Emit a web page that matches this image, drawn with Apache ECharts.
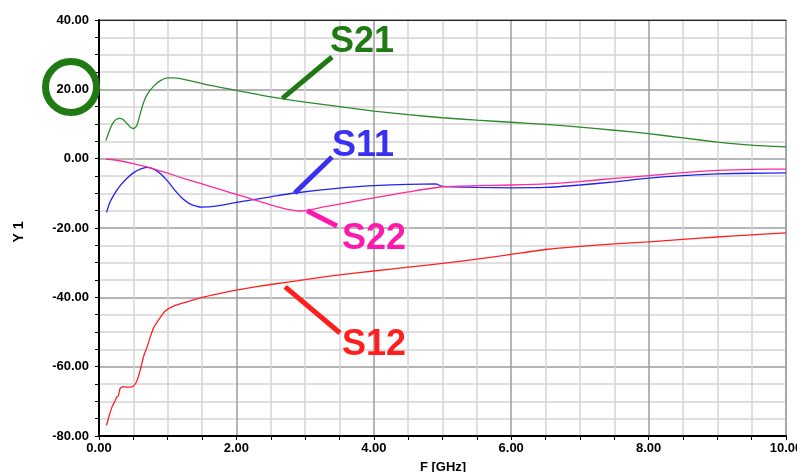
<!DOCTYPE html>
<html>
<head>
<meta charset="utf-8">
<script src="https://cdn.jsdelivr.net/npm/echarts@6/dist/echarts.min.js"></script>
<style>
html,body{margin:0;padding:0;background:#fff;}
#c{width:797px;height:472px;}
</style>
</head>
<body>
<div id="c"></div>
<script>
// ---- data (frequency in GHz, value in dB) ----
var s21F = [0.1,0.15,0.2,0.25,0.3,0.35,0.4,0.45,0.5,0.55,0.6,0.65,0.7,0.8,0.9,1.0,1.1,1.3,1.6,2.0,2.5,3.0,3.5,4.0,4.5,5.0,5.5,6.0,6.5,7.0,7.5,8.0,8.5,9.0,9.5,10.0];
var s21V = [5.2,8.0,10.2,11.3,11.6,11.3,10.3,9.2,8.7,9.5,13.0,16.3,18.5,21.0,22.6,23.3,23.3,22.6,21.2,19.7,17.8,16.3,15.0,13.7,12.7,11.8,11.1,10.5,9.9,9.1,8.2,7.2,6.0,4.8,3.9,3.4];

var s11F = [0.11,0.15,0.2,0.3,0.4,0.5,0.6,0.7,0.8,0.9,1.0,1.1,1.2,1.33,1.5,1.7,2.0,2.5,2.85,3.5,4.0,4.5,4.9,5.0,5.5,6.0,6.5,7.0,7.5,8.0,8.5,9.0,9.5,10.0];
var s11V = [-15.5,-13.0,-11.0,-8.0,-5.8,-4.1,-3.0,-2.5,-3.0,-4.4,-6.5,-9.0,-11.2,-13.1,-14.0,-13.7,-12.6,-11.0,-9.9,-8.5,-7.8,-7.4,-7.3,-8.0,-8.3,-8.4,-8.3,-7.6,-6.7,-5.6,-4.9,-4.4,-4.2,-4.1];

var s22F = [0.1,0.3,0.5,0.7,0.9,1.0,1.25,1.5,1.75,2.0,2.25,2.5,2.75,2.95,3.25,3.5,4.0,4.5,5.0,5.5,6.0,6.5,7.0,7.5,8.0,8.5,9.0,9.5,10.0];
var s22V = [-0.1,-0.6,-1.4,-2.4,-3.6,-4.2,-5.8,-7.3,-8.8,-10.3,-11.8,-13.3,-14.6,-15.1,-14.0,-13.1,-11.3,-9.6,-8.1,-7.8,-7.6,-7.3,-6.6,-5.7,-4.9,-4.0,-3.4,-3.1,-3.0];

var s12F = [0.11,0.15,0.19,0.23,0.26,0.28,0.31,0.35,0.4,0.45,0.5,0.55,0.6,0.65,0.7,0.75,0.8,0.9,0.96,1.1,1.28,1.5,1.75,2.0,2.5,3.0,3.5,4.0,4.5,5.0,5.5,6.0,6.5,7.0,7.5,8.0,8.5,9.0,9.5,10.0];
var s12V = [-76.9,-74.0,-71.6,-70.0,-68.7,-68.5,-66.2,-65.8,-65.9,-65.9,-65.6,-64.2,-61.0,-57.0,-54.3,-51.2,-48.6,-45.6,-44.0,-42.4,-41.3,-40.0,-38.9,-37.9,-36.3,-34.9,-33.5,-32.4,-31.3,-30.2,-29.0,-27.6,-26.2,-25.3,-24.6,-24.0,-23.3,-22.6,-22.0,-21.4];

var seriesNames = ['S21','S11','S22','S12'];
var xMin = 0, xMax = 10, xStep = 0.5, xLabelStep = 2;
var yMin = -80, yMax = 40, yStep = 5, yLabelStep = 20;

function pairs(f, v){ return f.map(function(x,i){ return [x, v[i]]; }); }

var FONT = '"Liberation Sans", Arial, sans-serif';
var MAJOR = '#9c9c9c', MINOR = '#d4d4d4';

var chart = echarts.init(document.getElementById('c'), null, {renderer:'canvas'});

var colors = {S21:'#2a8a2a', S11:'#2323f0', S22:'#ff2a9a', S12:'#ff2020'};
var dataMap = {S21:pairs(s21F,s21V), S11:pairs(s11F,s11V), S22:pairs(s22F,s22V), S12:pairs(s12F,s12V)};

var option = {
  animation:false,
  backgroundColor:'#ffffff',
  grid:{left:99, right:11, top:20, bottom:36, containLabel:false, outerBoundsMode:'none',
    show:true, borderColor:'#8a8a8a', borderWidth:1, backgroundColor:'transparent'},
  xAxis:[{
    type:'value', min:xMin, max:xMax, interval:xStep, position:'bottom',
    axisLine:{show:true, onZero:false, lineStyle:{color:'#000', width:2}},
    axisTick:{show:true, length:4, lineStyle:{color:'#000', width:1}},
    axisLabel:{show:true, margin:6, color:'#000', fontFamily:FONT, fontWeight:'bold', fontSize:13,
      formatter:function(v){ return (Math.abs(v/xLabelStep - Math.round(v/xLabelStep))<1e-6) ? v.toFixed(2) : ''; }},
    splitLine:{show:true, lineStyle:{color:[MAJOR,MINOR,MINOR,MINOR], width:1.5}}
  },{
    type:'value', min:xMin, max:xMax, position:'top',
    axisLine:{show:true, onZero:false, lineStyle:{color:'#222', width:1}},
    axisTick:{show:false}, axisLabel:{show:false}, splitLine:{show:false}
  }],
  yAxis:{
    type:'value', min:yMin, max:yMax, interval:yStep,
    axisLine:{show:true, onZero:false, lineStyle:{color:'#000', width:2}},
    axisTick:{show:true, length:4, lineStyle:{color:'#000', width:1}},
    axisLabel:{show:true, margin:10, color:'#000', fontFamily:FONT, fontWeight:'bold', fontSize:13,
      formatter:function(v){ return (Math.abs(v/yLabelStep - Math.round(v/yLabelStep))<1e-6) ? v.toFixed(2) : ''; }},
    splitLine:{show:true, lineStyle:{color:[MAJOR,MINOR,MINOR,MINOR], width:1.5}}
  },
  series: seriesNames.map(function(n){
    return {name:n, type:'line', xAxisIndex:0, data:dataMap[n], showSymbol:false, smooth:0.2,
      lineStyle:{color:colors[n], width:1.3}, itemStyle:{color:colors[n]}, z:3};
  })
};
chart.setOption(option);

// annotations: pointer anchored on curve (data coords), label placed beside
var ann = [
  {name:'S21', at:[2.67,17.4], end:[332,57], text:[362,42], color:'#1f7a14'},
  {name:'S11', at:[2.85,-9.9], end:[332,157], text:[363,146], color:'#3a30f2'},
  {name:'S22', at:[3.03,-15.0], end:[337,226], text:[374,239], color:'#ff18ae'},
  {name:'S12', at:[2.71,-37.0], end:[340,333], text:[374,345], color:'#ff1e1e'}
];
var g = [];
ann.forEach(function(a){
  var p = chart.convertToPixel({xAxisIndex:0, yAxisIndex:0}, a.at);
  g.push({type:'line', shape:{x1:p[0], y1:p[1], x2:a.end[0], y2:a.end[1]},
    style:{stroke:a.color, lineWidth:5, lineCap:'butt'}, z:10});
  g.push({type:'text', x:a.text[0], y:a.text[1],
    style:{text:a.name, fill:a.color, font:'bold 36px ' + FONT, textAlign:'center', textVerticalAlign:'middle'}, z:10});
});
g.push({type:'circle', shape:{cx:71, cy:87, r:25.5}, style:{fill:'none', stroke:'#1f7a14', lineWidth:7}, z:10});
g.push({type:'text', x:19, y:232, rotation:Math.PI/2,
  style:{text:'Y 1', fill:'#000', font:'bold 14px ' + FONT, textAlign:'center', textVerticalAlign:'middle'}, z:10});
g.push({type:'text', x:443, y:467,
  style:{text:'F [GHz]', fill:'#000', font:'bold 13px ' + FONT, textAlign:'center', textVerticalAlign:'middle'}, z:10});
chart.setOption({graphic:g});
</script>
</body>
</html>
